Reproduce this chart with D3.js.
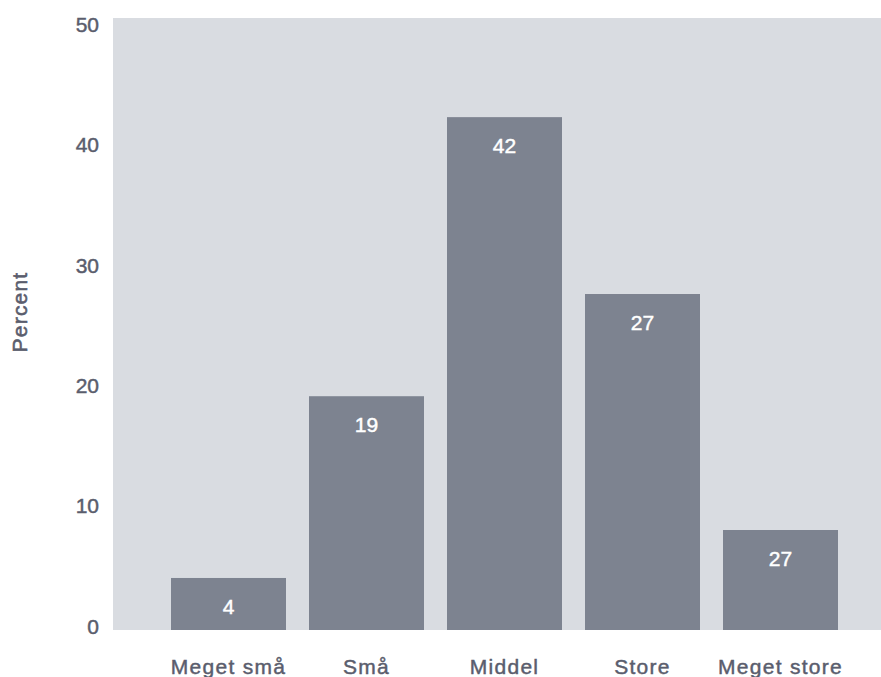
<!DOCTYPE html>
<html>
<head>
<meta charset="utf-8">
<script src="https://cdn.jsdelivr.net/npm/d3@7"></script>
<style>
  html, body { margin: 0; padding: 0; background: #ffffff; }
  svg { display: block; }
</style>
</head>
<body>
<svg id="chart" width="881" height="677"></svg>
<script>
// ---- data ----
const categories = ["Meget små", "Små", "Middel", "Store", "Meget store"];
const values = [4.25, 19.1, 41.9, 27.45, 8.17];
const barLabels = ["4", "19", "42", "27", "27"];
const yTicks = [0, 10, 20, 30, 40, 50];
const yTitle = "Percent";

// ---- layout ----
const plot = { left: 113, right: 881, top: 18, bottom: 630 };
const font = "'Liberation Sans', Arial, Helvetica, sans-serif";
const textColor = "#5a5d6d";
const bgColor = "#d9dce1";
const barColor = "#7d8390";
const medium = 0.45; // stroke width to emulate a medium weight

const svg = d3.select("#chart");

const x = d3.scaleBand()
  .domain(categories)
  .range([159.5, 849.5])
  .paddingInner(1 / 6)
  .paddingOuter(1 / 12);

const y = d3.scaleLinear().domain([0, 50]).range([plot.bottom, plot.top]);
// tick labels sit on a slightly inset scale
const yTickPos = d3.scaleLinear().domain([0, 50]).range([625.5, 24]);

// plot background
svg.append("rect")
  .attr("x", plot.left)
  .attr("y", y(50))
  .attr("width", plot.right - plot.left)
  .attr("height", y(0) - y(50))
  .attr("fill", bgColor);

// bars
svg.append("g").selectAll("rect")
  .data(categories)
  .join("rect")
  .attr("x", d => x(d))
  .attr("y", (d, i) => y(values[i]))
  .attr("width", x.bandwidth())
  .attr("height", (d, i) => y(0) - y(values[i]))
  .attr("fill", barColor);

// bar labels
svg.append("g").selectAll("text")
  .data(categories)
  .join("text")
  .attr("x", d => x(d) + x.bandwidth() / 2)
  .attr("y", (d, i) => y(values[i]) + 36)
  .attr("text-anchor", "middle")
  .attr("font-family", font)
  .attr("font-size", 21)
  .attr("fill", "#ffffff")
  .attr("stroke", "#ffffff")
  .attr("stroke-width", medium)
  .text((d, i) => barLabels[i]);

// y axis
const yAxis = d3.axisLeft(yTickPos)
  .tickValues(yTicks)
  .tickSize(0)
  .tickPadding(0)
  .tickFormat(d3.format("d"));

const gy = svg.append("g")
  .attr("transform", "translate(99,0)")
  .call(yAxis);
gy.select(".domain").remove();
gy.selectAll("text")
  .attr("font-family", font)
  .attr("font-size", 21)
  .attr("fill", textColor)
  .attr("stroke", textColor)
  .attr("stroke-width", medium)
  .attr("dy", "0.36em");

// x axis
const xAxis = d3.axisBottom(x).tickSize(0).tickPadding(0);
const gx = svg.append("g")
  .attr("transform", "translate(0,674)")
  .call(xAxis);
gx.select(".domain").remove();
gx.selectAll("text")
  .attr("font-family", font)
  .attr("font-size", 21)
  .attr("letter-spacing", "1.3px")
  .attr("fill", textColor)
  .attr("stroke", textColor)
  .attr("stroke-width", medium)
  .attr("dy", 0)
  .attr("y", 0);

// y title
svg.append("text")
  .attr("transform", "translate(27,312) rotate(-90)")
  .attr("text-anchor", "middle")
  .attr("font-family", font)
  .attr("font-size", 21)
  .attr("letter-spacing", "1.2px")
  .attr("fill", textColor)
  .attr("stroke", textColor)
  .attr("stroke-width", 0.6)
  .text(yTitle);
</script>
</body>
</html>
